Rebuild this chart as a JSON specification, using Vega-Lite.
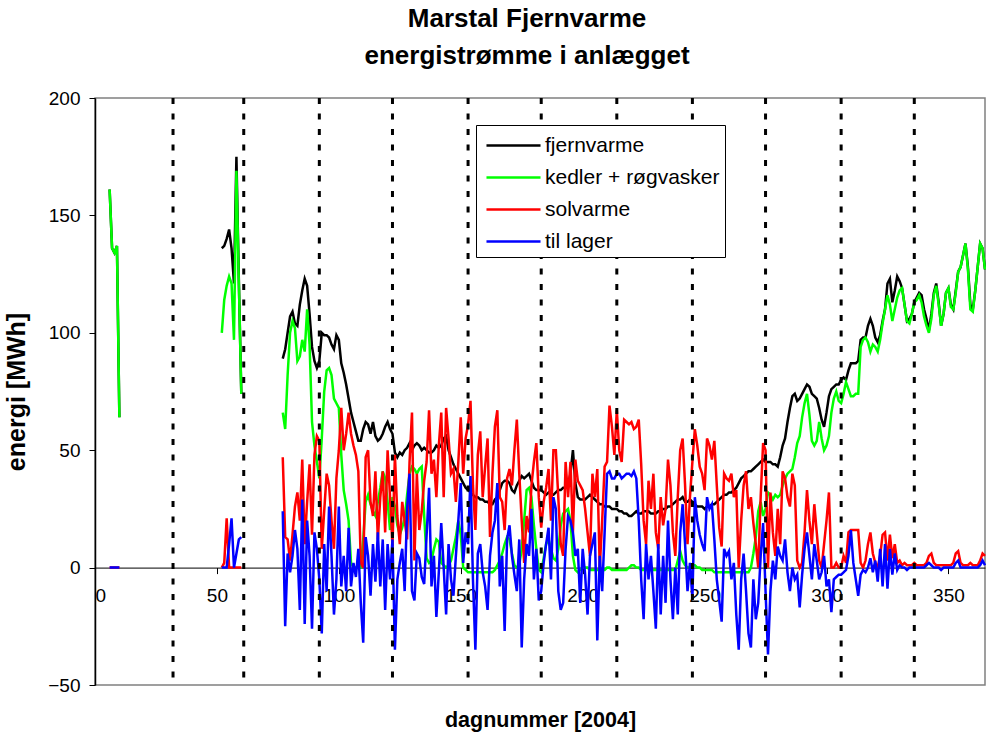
{
  "$schema": "https://vega.github.io/schema/vega-lite/v6.json",
  "width": 890,
  "height": 587,
  "autosize": {"type": "none"},
  "padding": {"left": 95, "top": 98, "right": 1, "bottom": 50},
  "background": "white",
  "config": {"font": "Liberation Sans", "view": {"stroke": "#808080", "strokeWidth": 1.5}},
  "title": {"text": ["Marstal Fjernvarme", "energistrømme i anlægget"], "fontSize": 26, "fontWeight": "bold", "lineHeight": 37, "anchor": "middle", "offset": 20, "dx": -13, "color": "black", "font": "Liberation Sans"},
  "layer": [
    {
      "data": {"values": [
        {"d":6,"f":161,"k":161,"s":0,"t":0},{"d":7,"f":136,"k":136,"s":0,"t":0},{"d":8,"f":134,"k":134,"s":0,"t":0},{"d":9,"f":137,"k":137,"s":0,"t":0},{"d":10,"f":64,"k":64,"s":0,"t":0},
        {"d":30,"f":null,"k":null,"s":null,"t":null},
        {"d":52,"f":136,"k":100,"s":0,"t":0},{"d":53,"f":137,"k":114,"s":2,"t":0},{"d":54,"f":140,"k":120,"s":21,"t":0},{"d":55,"f":144,"k":124,"s":0,"t":10},{"d":56,"f":136,"k":121,"s":0,"t":21},{"d":57,"f":121,"k":97,"s":0,"t":0},{"d":58,"f":175,"k":169,"s":0,"t":6},{"d":59,"f":122,"k":121,"s":0,"t":12},{"d":60,"f":74,"k":74,"s":0,"t":13},
        {"d":70,"f":null,"k":null,"s":null,"t":null},
        {"d":77,"f":89,"k":66,"s":47,"t":24},{"d":78,"f":93,"k":59,"s":13,"t":-25},{"d":79,"f":100,"k":82,"s":12,"t":6},{"d":80,"f":107,"k":100,"s":3,"t":-2},{"d":81,"f":109,"k":105,"s":14,"t":5},{"d":82,"f":104,"k":102,"s":26,"t":16},{"d":83,"f":103,"k":88,"s":32,"t":8},{"d":84,"f":112,"k":90,"s":20,"t":-18},{"d":85,"f":118,"k":97,"s":46,"t":29},{"d":86,"f":123,"k":92,"s":10,"t":-24},{"d":87,"f":120,"k":110,"s":28,"t":20},{"d":88,"f":108,"k":95,"s":44,"t":5},{"d":89,"f":94,"k":62,"s":14,"t":-26},{"d":90,"f":88,"k":52,"s":48,"t":15},
        {"d":91,"f":85,"k":45,"s":56,"t":8},{"d":92,"f":88,"k":38,"s":54,"t":-5},{"d":93,"f":100,"k":55,"s":8,"t":-28},{"d":94,"f":99,"k":75,"s":24,"t":10},{"d":95,"f":99,"k":84,"s":40,"t":-10},{"d":96,"f":98,"k":85,"s":35,"t":26},{"d":97,"f":95,"k":82,"s":20,"t":5},{"d":98,"f":93,"k":72,"s":8,"t":-20},{"d":99,"f":99,"k":70,"s":38,"t":-5},{"d":100,"f":97,"k":68,"s":50,"t":26},
        {"d":101,"f":87,"k":48,"s":68,"t":-8},{"d":102,"f":83,"k":33,"s":50,"t":5},{"d":103,"f":78,"k":27,"s":57,"t":-10},{"d":104,"f":72,"k":20,"s":66,"t":17},{"d":105,"f":66,"k":2,"s":57,"t":-8},{"d":106,"f":62,"k":0,"s":52,"t":2},{"d":107,"f":58,"k":0,"s":48,"t":-4},{"d":108,"f":54,"k":0,"s":41,"t":8},{"d":109,"f":54,"k":0,"s":2,"t":-15},{"d":110,"f":59,"k":12,"s":0,"t":-32},
        {"d":111,"f":62,"k":28,"s":47,"t":13},{"d":112,"f":61,"k":31,"s":50,"t":5},{"d":113,"f":57,"k":27,"s":28,"t":-12},{"d":114,"f":62,"k":24,"s":22,"t":10},{"d":115,"f":56,"k":22,"s":41,"t":-6},{"d":116,"f":54,"k":28,"s":12,"t":15},{"d":117,"f":55,"k":34,"s":30,"t":-8},{"d":118,"f":57,"k":41,"s":41,"t":12},{"d":119,"f":60,"k":38,"s":15,"t":-18},{"d":120,"f":62,"k":28,"s":50,"t":10},
        {"d":121,"f":59,"k":16,"s":30,"t":-5},{"d":122,"f":57,"k":30,"s":9,"t":12},{"d":123,"f":49,"k":26,"s":48,"t":-35},{"d":124,"f":47,"k":18,"s":22,"t":-5},{"d":125,"f":49,"k":14,"s":10,"t":2},{"d":126,"f":48,"k":17,"s":28,"t":8},{"d":127,"f":50,"k":21,"s":20,"t":-10},{"d":128,"f":51,"k":31,"s":12,"t":25},{"d":129,"f":53,"k":40,"s":45,"t":40},{"d":130,"f":50,"k":43,"s":66,"t":-10},
        {"d":131,"f":52,"k":42,"s":3,"t":-14},{"d":132,"f":53,"k":40,"s":40,"t":6},{"d":133,"f":52,"k":42,"s":16,"t":4},{"d":134,"f":50,"k":43,"s":24,"t":-4},{"d":135,"f":51,"k":22,"s":37,"t":-7},{"d":136,"f":50,"k":4,"s":45,"t":14},{"d":137,"f":49,"k":2,"s":67,"t":34},{"d":138,"f":49,"k":3,"s":40,"t":-8},{"d":139,"f":50,"k":8,"s":46,"t":5},{"d":140,"f":52,"k":12,"s":30,"t":-21},
        {"d":141,"f":51,"k":11,"s":52,"t":-2},{"d":142,"f":52,"k":2,"s":66,"t":19},{"d":143,"f":55,"k":1,"s":30,"t":0},{"d":144,"f":56,"k":0,"s":68,"t":-20},{"d":145,"f":50,"k":1,"s":55,"t":10},{"d":146,"f":47,"k":3,"s":40,"t":-5},{"d":147,"f":44,"k":8,"s":42,"t":-12},{"d":148,"f":42,"k":13,"s":28,"t":5},{"d":149,"f":40,"k":20,"s":45,"t":20},{"d":150,"f":38,"k":14,"s":64,"t":36},
        {"d":151,"f":36,"k":0,"s":40,"t":2},{"d":152,"f":34,"k":-1,"s":55,"t":15},{"d":153,"f":33,"k":-2,"s":61,"t":10},{"d":154,"f":32,"k":-2,"s":71,"t":39},{"d":155,"f":31,"k":-2,"s":35,"t":-5},{"d":156,"f":30,"k":-2,"s":16,"t":-35},{"d":157,"f":30,"k":-2,"s":48,"t":6},{"d":158,"f":29,"k":-2,"s":58,"t":10},{"d":159,"f":29,"k":-2,"s":30,"t":-2},{"d":160,"f":28,"k":-2,"s":43,"t":-8},
        {"d":161,"f":28,"k":-2,"s":55,"t":-18},{"d":162,"f":27,"k":-2,"s":13,"t":5},{"d":163,"f":27,"k":-2,"s":40,"t":15},{"d":164,"f":29,"k":-1,"s":60,"t":20},{"d":165,"f":30,"k":1,"s":67,"t":36},{"d":166,"f":33,"k":3,"s":30,"t":-8},{"d":167,"f":36,"k":6,"s":28,"t":5},{"d":168,"f":37,"k":10,"s":16,"t":-27},{"d":169,"f":37,"k":13,"s":38,"t":12},{"d":170,"f":36,"k":12,"s":42,"t":18},
        {"d":171,"f":33,"k":6,"s":35,"t":5},{"d":172,"f":32,"k":1,"s":50,"t":-3},{"d":173,"f":35,"k":0,"s":63,"t":-10},{"d":174,"f":37,"k":1,"s":40,"t":12},{"d":175,"f":39,"k":8,"s":20,"t":-34},{"d":176,"f":38,"k":20,"s":2,"t":-5},{"d":177,"f":39,"k":33,"s":22,"t":10},{"d":178,"f":40,"k":34,"s":15,"t":5},{"d":179,"f":37,"k":30,"s":35,"t":25},{"d":180,"f":34,"k":18,"s":45,"t":-5},
        {"d":181,"f":33,"k":8,"s":53,"t":8},{"d":182,"f":33,"k":-1,"s":30,"t":-14},{"d":183,"f":33,"k":-2,"s":17,"t":-10},{"d":184,"f":32,"k":4,"s":28,"t":2},{"d":185,"f":31,"k":10,"s":34,"t":10},{"d":186,"f":32,"k":12,"s":42,"t":17},{"d":187,"f":31,"k":8,"s":20,"t":-5},{"d":188,"f":31,"k":4,"s":50,"t":30},{"d":189,"f":32,"k":3,"s":50,"t":25},{"d":190,"f":33,"k":8,"s":30,"t":-10},
        {"d":191,"f":33,"k":18,"s":10,"t":-18},{"d":192,"f":34,"k":23,"s":5,"t":-15},{"d":193,"f":34,"k":24,"s":45,"t":8},{"d":194,"f":35,"k":25,"s":30,"t":22},{"d":195,"f":40,"k":20,"s":45,"t":20},{"d":196,"f":50,"k":5,"s":15,"t":15},{"d":197,"f":36,"k":-1,"s":46,"t":5},{"d":198,"f":30,"k":-2,"s":37,"t":8},{"d":199,"f":29,"k":-1,"s":35,"t":-15},{"d":200,"f":29,"k":0,"s":33,"t":8},
        {"d":201,"f":29,"k":0,"s":25,"t":-3},{"d":202,"f":30,"k":0,"s":15,"t":-20},{"d":203,"f":31,"k":-1,"s":5,"t":5},{"d":204,"f":30,"k":-1,"s":40,"t":10},{"d":205,"f":29,"k":-1,"s":30,"t":15},{"d":206,"f":28,"k":-1,"s":42,"t":-31},{"d":207,"f":27,"k":-1,"s":0,"t":5},{"d":208,"f":27,"k":-1,"s":20,"t":-10},{"d":209,"f":26,"k":-1,"s":43,"t":15},{"d":210,"f":26,"k":0,"s":45,"t":40},
        {"d":211,"f":26,"k":0,"s":69,"t":41},{"d":212,"f":25,"k":-1,"s":60,"t":38},{"d":213,"f":25,"k":-1,"s":48,"t":38},{"d":214,"f":25,"k":-1,"s":67,"t":40},{"d":215,"f":24,"k":-1,"s":50,"t":40},{"d":216,"f":24,"k":-1,"s":45,"t":38},{"d":217,"f":23,"k":-1,"s":63,"t":39},{"d":218,"f":23,"k":-1,"s":62,"t":40},{"d":219,"f":22,"k":0,"s":61,"t":40},{"d":220,"f":22,"k":1,"s":62,"t":39},
        {"d":221,"f":23,"k":1,"s":59,"t":41},{"d":222,"f":24,"k":0,"s":60,"t":38},{"d":223,"f":23,"k":0,"s":63,"t":20},{"d":224,"f":23,"k":-1,"s":44,"t":-5},{"d":225,"f":24,"k":-1,"s":20,"t":-22},{"d":226,"f":24,"k":-1,"s":10,"t":10},{"d":227,"f":24,"k":-1,"s":37,"t":-5},{"d":228,"f":23,"k":-1,"s":25,"t":5},{"d":229,"f":23,"k":-1,"s":40,"t":-10},{"d":230,"f":23,"k":-1,"s":15,"t":-26},
        {"d":231,"f":24,"k":-1,"s":8,"t":10},{"d":232,"f":24,"k":-1,"s":30,"t":-20},{"d":233,"f":25,"k":-1,"s":18,"t":5},{"d":234,"f":25,"k":-1,"s":25,"t":-15},{"d":235,"f":26,"k":-1,"s":46,"t":20},{"d":236,"f":26,"k":-1,"s":35,"t":-5},{"d":237,"f":27,"k":-1,"s":15,"t":-22},{"d":238,"f":28,"k":-1,"s":5,"t":0},{"d":239,"f":29,"k":3,"s":30,"t":-20},{"d":240,"f":29,"k":7,"s":50,"t":15},
        {"d":241,"f":30,"k":3,"s":55,"t":27},{"d":242,"f":28,"k":1,"s":35,"t":10},{"d":243,"f":28,"k":0,"s":10,"t":-10},{"d":244,"f":29,"k":0,"s":30,"t":2},{"d":245,"f":28,"k":1,"s":45,"t":-13},{"d":246,"f":27,"k":1,"s":59,"t":30},{"d":247,"f":26,"k":0,"s":52,"t":20},{"d":248,"f":26,"k":0,"s":43,"t":14},{"d":249,"f":26,"k":-1,"s":40,"t":10},{"d":250,"f":25,"k":-1,"s":33,"t":7},
        {"d":251,"f":26,"k":-1,"s":55,"t":30},{"d":252,"f":26,"k":-1,"s":52,"t":25},{"d":253,"f":27,"k":-1,"s":46,"t":27},{"d":254,"f":27,"k":-2,"s":54,"t":12},{"d":255,"f":28,"k":-2,"s":35,"t":-5},{"d":256,"f":29,"k":-2,"s":17,"t":-14},{"d":257,"f":30,"k":-2,"s":9,"t":-23},{"d":258,"f":31,"k":-2,"s":40,"t":8},{"d":259,"f":31,"k":-2,"s":38,"t":5},{"d":260,"f":32,"k":-2,"s":37,"t":7},
        {"d":261,"f":32,"k":-2,"s":40,"t":-5},{"d":262,"f":33,"k":-2,"s":30,"t":2},{"d":263,"f":34,"k":-2,"s":33,"t":-20},{"d":264,"f":36,"k":-2,"s":0,"t":-35},{"d":265,"f":38,"k":-2,"s":20,"t":-5},{"d":266,"f":39,"k":-2,"s":35,"t":6},{"d":267,"f":40,"k":-2,"s":41,"t":-10},{"d":268,"f":41,"k":-2,"s":25,"t":-28},{"d":269,"f":41,"k":0,"s":30,"t":-34},{"d":270,"f":42,"k":6,"s":19,"t":-5},
        {"d":271,"f":43,"k":13,"s":10,"t":-22},{"d":272,"f":44,"k":24,"s":0,"t":-15},{"d":273,"f":45,"k":28,"s":30,"t":5},{"d":274,"f":46,"k":22,"s":53,"t":19},{"d":275,"f":45,"k":25,"s":50,"t":-10},{"d":276,"f":45,"k":32,"s":0,"t":-37},{"d":277,"f":45,"k":31,"s":32,"t":-10},{"d":278,"f":44,"k":29,"s":15,"t":3},{"d":279,"f":44,"k":31,"s":5,"t":-5},{"d":280,"f":43,"k":30,"s":25,"t":9},
        {"d":281,"f":47,"k":31,"s":10,"t":5},{"d":282,"f":52,"k":35,"s":41,"t":3},{"d":283,"f":55,"k":38,"s":38,"t":12},{"d":284,"f":62,"k":40,"s":30,"t":-2},{"d":285,"f":68,"k":41,"s":26,"t":-10},{"d":286,"f":73,"k":42,"s":40,"t":0},{"d":287,"f":74,"k":47,"s":35,"t":-5},{"d":288,"f":71,"k":53,"s":3,"t":-3},{"d":289,"f":72,"k":56,"s":0,"t":-17},{"d":290,"f":74,"k":64,"s":2,"t":-3},
        {"d":291,"f":76,"k":70,"s":15,"t":8},{"d":292,"f":78,"k":74,"s":33,"t":15},{"d":293,"f":77,"k":65,"s":20,"t":5},{"d":294,"f":74,"k":54,"s":10,"t":-5},{"d":295,"f":73,"k":52,"s":27,"t":10},{"d":296,"f":72,"k":54,"s":15,"t":3},{"d":297,"f":68,"k":62,"s":3,"t":-5},{"d":298,"f":63,"k":55,"s":0,"t":-2},{"d":299,"f":60,"k":50,"s":10,"t":5},{"d":300,"f":66,"k":52,"s":20,"t":-8},
        {"d":301,"f":73,"k":56,"s":32,"t":-5},{"d":302,"f":76,"k":66,"s":0,"t":-19},{"d":303,"f":77,"k":72,"s":0,"t":-5},{"d":304,"f":78,"k":75,"s":2,"t":-4},{"d":305,"f":78,"k":71,"s":0,"t":-3},{"d":306,"f":80,"k":70,"s":0,"t":-3},{"d":307,"f":81,"k":74,"s":5,"t":-2},{"d":308,"f":80,"k":79,"s":2,"t":-1},{"d":309,"f":84,"k":76,"s":15,"t":5},{"d":310,"f":87,"k":73,"s":16,"t":16},
        {"d":311,"f":87,"k":73,"s":16,"t":2},{"d":312,"f":87,"k":74,"s":16,"t":-5},{"d":313,"f":88,"k":74,"s":16,"t":-12},{"d":314,"f":97,"k":94,"s":2,"t":-3},{"d":315,"f":98,"k":97,"s":0,"t":-1},{"d":316,"f":98,"k":98,"s":3,"t":-2},{"d":317,"f":103,"k":96,"s":10,"t":0},{"d":318,"f":106,"k":92,"s":15,"t":4},{"d":319,"f":103,"k":95,"s":6,"t":-2},{"d":320,"f":98,"k":94,"s":2,"t":3},
        {"d":321,"f":96,"k":92,"s":0,"t":-6},{"d":322,"f":99,"k":97,"s":5,"t":8},{"d":323,"f":105,"k":104,"s":14,"t":-8},{"d":324,"f":110,"k":110,"s":15,"t":10},{"d":325,"f":121,"k":116,"s":3,"t":-9},{"d":326,"f":123,"k":112,"s":14,"t":8},{"d":327,"f":113,"k":105,"s":4,"t":-3},{"d":328,"f":118,"k":110,"s":10,"t":6},{"d":329,"f":124,"k":115,"s":2,"t":-1},{"d":330,"f":122,"k":118,"s":3,"t":1},
        {"d":331,"f":119,"k":119,"s":1,"t":0},{"d":332,"f":112,"k":112,"s":2,"t":0},{"d":333,"f":105,"k":105,"s":1,"t":-1},{"d":334,"f":106,"k":104,"s":1,"t":0},{"d":335,"f":108,"k":108,"s":1,"t":0},{"d":336,"f":113,"k":113,"s":2,"t":0},{"d":337,"f":115,"k":114,"s":1,"t":0},{"d":338,"f":117,"k":116,"s":1,"t":0},{"d":339,"f":116,"k":113,"s":1,"t":0},{"d":340,"f":110,"k":107,"s":1,"t":0},
        {"d":341,"f":106,"k":103,"s":2,"t":1},{"d":342,"f":101,"k":100,"s":5,"t":2},{"d":343,"f":108,"k":106,"s":6,"t":1},{"d":344,"f":117,"k":116,"s":2,"t":0},{"d":345,"f":121,"k":120,"s":1,"t":0},{"d":346,"f":113,"k":112,"s":1,"t":0},{"d":347,"f":103,"k":103,"s":1,"t":-1},{"d":348,"f":108,"k":108,"s":1,"t":0},{"d":349,"f":117,"k":117,"s":1,"t":0},{"d":350,"f":119,"k":119,"s":1,"t":0},
        {"d":351,"f":112,"k":111,"s":1,"t":0},{"d":352,"f":110,"k":110,"s":2,"t":0},{"d":353,"f":118,"k":117,"s":6,"t":2},{"d":354,"f":126,"k":126,"s":7,"t":3},{"d":355,"f":128,"k":128,"s":2,"t":0},{"d":356,"f":133,"k":133,"s":1,"t":0},{"d":357,"f":138,"k":138,"s":1,"t":0},{"d":358,"f":128,"k":127,"s":1,"t":0},{"d":359,"f":112,"k":110,"s":2,"t":0},{"d":360,"f":110,"k":109,"s":1,"t":0},
        {"d":361,"f":118,"k":118,"s":1,"t":0},{"d":362,"f":128,"k":128,"s":1,"t":0},{"d":363,"f":138,"k":138,"s":3,"t":1},{"d":364,"f":136,"k":136,"s":6,"t":3},{"d":365,"f":127,"k":127,"s":5,"t":1}
      ]},
      "transform": [{"fold": ["f", "k", "s", "t"], "as": ["serie", "v"]}],
      "mark": {"type": "line", "strokeWidth": 2.5, "invalid": "break-paths-show-domains"},
      "encoding": {
        "x": {"field": "d", "type": "quantitative",
          "scale": {"domain": [0, 365], "nice": false, "zero": false},
          "axis": {"values": [0, 50, 100, 150, 200, 250, 300, 350], "offset": -117.4, "grid": false, "domainColor": "black", "domainWidth": 1, "tickColor": "black", "tickSize": 6, "labelFontSize": 19, "labelColor": "black", "labelPadding": 13, "labelFont": "Liberation Sans", "title": "dagnummer [2004]", "titleFontSize": 21.5, "titleFontWeight": "bold", "titleColor": "black", "titleFont": "Liberation Sans", "titleY": 153, "titleBaseline": "middle"}},
        "y": {"field": "v", "type": "quantitative",
          "scale": {"domain": [-50, 200], "nice": false, "zero": false},
          "axis": {"values": [-50, 0, 50, 100, 150, 200], "grid": false, "domainColor": "black", "domainWidth": 1.5, "tickColor": "black", "tickSize": 6, "labelFontSize": 19, "labelColor": "black", "labelPadding": 9, "labelFont": "Liberation Sans", "title": "energi [MWh]", "titleFontSize": 25, "titleFontWeight": "bold", "titleColor": "black", "titleFont": "Liberation Sans", "titlePadding": 18}},
        "color": {"field": "serie", "type": "nominal",
          "scale": {"domain": ["f", "k", "s", "t"], "range": ["#000000", "#00ff00", "#ff0000", "#0000ff"]},
          "legend": {"title": null, "orient": "none", "legendX": 381, "legendY": 27, "direction": "vertical",
            "labelExpr": "{'f': 'fjernvarme', 'k': 'kedler + røgvasker', 's': 'solvarme', 't': 'til lager'}[datum.label]",
            "labelFontSize": 21, "labelColor": "black", "labelFont": "Liberation Sans", "labelLimit": 400,
            "symbolType": "M-1.93,0H1.93", "symbolSize": 784, "symbolStrokeWidth": 2.5, "symbolOffset": 17,
            "padding": 5, "rowPadding": 6, "labelOffset": 16,
            "strokeColor": "black", "fillColor": "white"}}
      }
    },
    {
      "data": {"values": [{"m": 32}, {"m": 61}, {"m": 92}, {"m": 122}, {"m": 153}, {"m": 183}, {"m": 214}, {"m": 245}, {"m": 275}, {"m": 306}, {"m": 336}]},
      "mark": {"type": "rule", "color": "black", "strokeWidth": 3, "strokeDash": [6, 9.5]},
      "encoding": {"x": {"field": "m", "type": "quantitative", "title": "dagnummer [2004]"}}
    }
  ]
}
